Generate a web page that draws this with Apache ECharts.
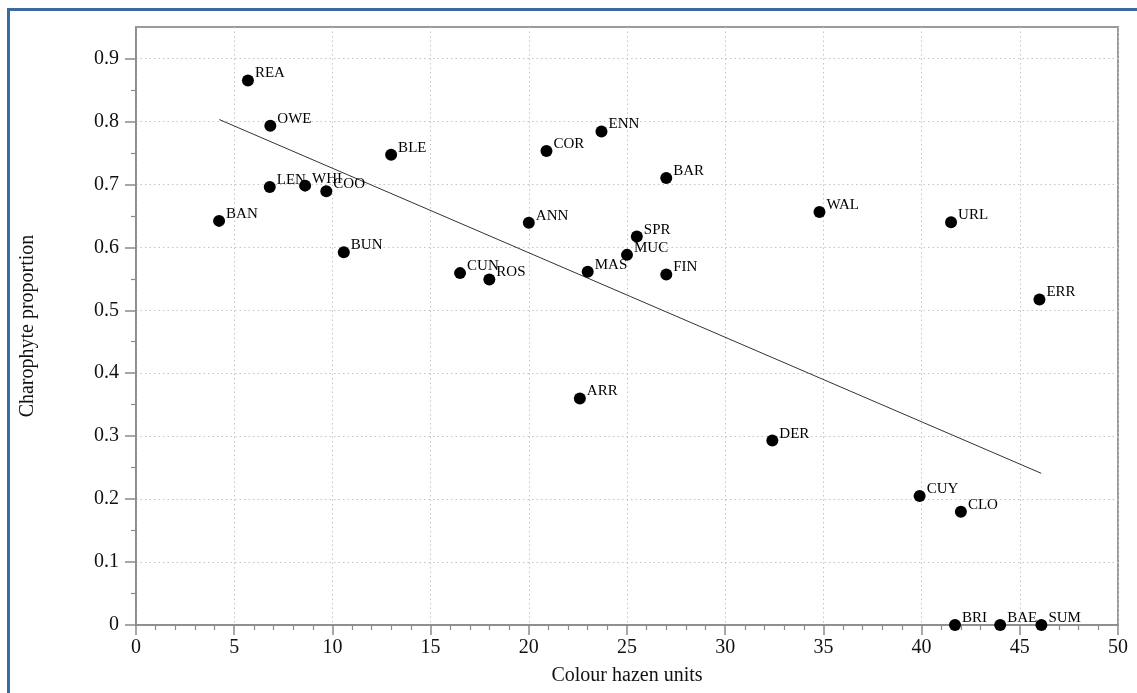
<!DOCTYPE html>
<html>
<head>
<meta charset="utf-8">
<script src="https://cdn.jsdelivr.net/npm/echarts@6/dist/echarts.min.js"></script>
<style>
  html, body { margin: 0; padding: 0; background: #ffffff; }
  #wrap { position: relative; width: 1137px; height: 693px; overflow: hidden; }
  #chart { position: absolute; left: 0; top: 0; width: 1137px; height: 693px; }
  #frame {
    position: absolute; left: 7px; top: 8px; width: 1200px; height: 800px;
    border-left: 3px solid #3b69a3; border-top: 3px solid #3b69a3;
    pointer-events: none;
  }
</style>
</head>
<body>
<div id="wrap">
  <div id="chart"></div>
  <div id="frame"></div>
</div>
<script>
// Lake sites: water colour (hazen units) against charophyte proportion
const sites = ['REA','OWE','BLE','LEN','WHI','COO','BAN','BUN','CUN','ROS','ANN','COR','ENN','BAR',
               'SPR','MUC','MAS','FIN','WAL','URL','ERR','ARR','DER','CUY','CLO','BRI','BAE','SUM'];
const colourHazen = [5.7, 6.84, 12.99, 6.81, 8.61, 9.69, 4.23, 10.58, 16.5, 17.99, 20.0, 20.9, 23.7, 27.0,
                     25.5, 25.0, 23.0, 27.0, 34.8, 41.5, 46.0, 22.6, 32.4, 39.9, 42.0, 41.7, 44.0, 46.1];
const charophyte = [0.865, 0.793, 0.747, 0.696, 0.698, 0.689, 0.642, 0.592, 0.559, 0.549, 0.639, 0.753, 0.784, 0.710,
                    0.617, 0.588, 0.561, 0.557, 0.656, 0.640, 0.517, 0.360, 0.293, 0.205, 0.180, 0, 0, 0];

// Fitted trend line (end points over the observed colour range)
const trendX = [4.24, 46.09];
const trendY = [0.803, 0.241];

// Axis ranges and tick positions
const xRange = { min: 0, max: 50, interval: 5 };
const yRange = { min: 0, max: 0.95 };
const yMajorTicks = [0, 0.1, 0.2, 0.3, 0.4, 0.5, 0.6, 0.7, 0.8, 0.9];
const yMinorTicks = [0.05, 0.15, 0.25, 0.35, 0.45, 0.55, 0.65, 0.75, 0.85];

const FONT = '"Liberation Serif", "DejaVu Serif", serif';
const AXIS_GREY = '#8a8a8a';
const GRID_LINE = { show: true, lineStyle: { color: '#c4c4c4', type: [1.5, 3], width: 1 } };

const points = sites.map((s, i) => ({ name: s, value: [colourHazen[i], charophyte[i]] }));
const trend = trendX.map((x, i) => [x, trendY[i]]);

const chart = echarts.init(document.getElementById('chart'), null, { renderer: 'canvas' });

chart.setOption({
  animation: false,
  backgroundColor: '#ffffff',
  grid: {
    left: 136, right: 19, top: 27, bottom: 68,
    show: true, borderColor: '#9a9a9a', borderWidth: 2, backgroundColor: 'transparent'
  },
  xAxis: {
    type: 'value',
    min: xRange.min, max: xRange.max, interval: xRange.interval,
    name: 'Colour hazen units',
    nameLocation: 'middle',
    nameGap: 41,
    nameTextStyle: { fontFamily: FONT, fontSize: 20, color: '#111111' },
    axisLine: { show: true, onZero: false, lineStyle: { color: AXIS_GREY, width: 1.5 } },
    axisTick: { show: true, inside: false, length: 10, lineStyle: { color: AXIS_GREY, width: 1.5 } },
    minorTick: { show: true, splitNumber: 5, length: 5, lineStyle: { color: AXIS_GREY, width: 1.2 } },
    axisLabel: { margin: 13, fontFamily: FONT, fontSize: 20, color: '#111111' },
    splitLine: GRID_LINE
  },
  yAxis: [
    {
      type: 'value',
      min: yRange.min, max: yRange.max,
      name: 'Charophyte proportion',
      nameLocation: 'middle',
      nameGap: 98,
      nameTextStyle: { fontFamily: FONT, fontSize: 20, color: '#111111' },
      axisLine: { show: true, onZero: false, lineStyle: { color: AXIS_GREY, width: 1.5 } },
      axisTick: { show: true, inside: false, length: 11, customValues: yMajorTicks,
                  lineStyle: { color: AXIS_GREY, width: 1.5 } },
      axisLabel: { margin: 17, customValues: yMajorTicks, fontFamily: FONT, fontSize: 20, color: '#111111' },
      splitLine: GRID_LINE
    },
    {
      // short ticks between the labelled values
      type: 'value',
      position: 'left',
      min: yRange.min, max: yRange.max,
      axisLine: { show: false },
      axisTick: { show: true, inside: false, length: 5, customValues: yMinorTicks,
                  lineStyle: { color: AXIS_GREY, width: 1.2 } },
      axisLabel: { show: false, customValues: yMinorTicks },
      splitLine: { show: false }
    }
  ],
  series: [
    {
      type: 'line',
      data: trend,
      symbol: 'none',
      silent: true,
      lineStyle: { color: '#333333', width: 1 },
      z: 2
    },
    {
      type: 'scatter',
      data: points,
      symbol: 'circle',
      symbolSize: 12,
      clip: false,
      itemStyle: { color: '#000000', opacity: 1 },
      label: {
        show: true,
        formatter: p => p.name,
        position: [13, -1],
        align: 'left',
        verticalAlign: 'middle',
        fontFamily: FONT,
        fontSize: 15,
        color: '#000000'
      },
      labelLayout: { hideOverlap: false },
      z: 3
    }
  ]
});
</script>
</body>
</html>
